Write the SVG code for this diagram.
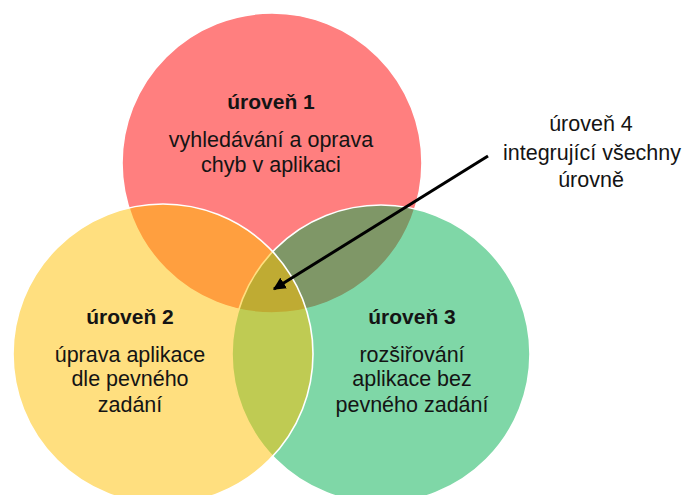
<svg xmlns="http://www.w3.org/2000/svg" width="683" height="495" viewBox="0 0 683 495">
  <defs>
    <marker id="arrowhead" viewBox="0 0 10 10" refX="9" refY="5" markerWidth="4.2" markerHeight="4.2" markerUnits="strokeWidth" orient="auto">
      <path d="M0,0 L10,5 L0,10 z" fill="#000"/>
    </marker>
    <style>
      .circle { stroke: #ffffff; stroke-width: 1.6; }
      .red { fill: rgba(255,0,0,0.5); }
      .yellow { fill: rgba(255,192,0,0.5); }
      .green { fill: rgba(0,176,80,0.5); }
      text { font-family: "Liberation Sans", Arial, sans-serif; font-size: 21.5px; fill: #141414; text-anchor: middle; }
      .title { font-weight: bold; font-size: 21px; }
      .connector { stroke: #000; stroke-width: 3; fill: none; }
    </style>
  </defs>
  <rect width="683" height="495" fill="#ffffff"/>
  <g id="node-level1">
    <circle class="circle red" cx="272" cy="163" r="150"/>
  </g>
  <g id="node-level3">
    <circle class="circle green" cx="381" cy="354" r="149"/>
  </g>
  <g id="node-level2">
    <circle class="circle yellow" cx="163" cy="354" r="150"/>
  </g>
  <g id="labels-level1">
    <text class="title" x="271" y="109">úroveň 1</text>
    <text x="271" y="147">vyhledávání a oprava</text>
    <text x="271" y="172">chyb v aplikaci</text>
  </g>
  <g id="labels-level2">
    <text class="title" x="130" y="324">úroveň 2</text>
    <text x="130" y="362">úprava aplikace</text>
    <text x="130" y="386">dle pevného</text>
    <text x="130" y="412">zadání</text>
  </g>
  <g id="labels-level3">
    <text class="title" x="412" y="324">úroveň 3</text>
    <text x="412" y="362">rozšiřování</text>
    <text x="412" y="386">aplikace bez</text>
    <text x="412" y="412">pevného zadání</text>
  </g>
  <g id="node-level4">
    <text x="591" y="131">úroveň 4</text>
    <text x="592" y="160">integrující všechny</text>
    <text x="591" y="187">úrovně</text>
  </g>
  <g id="connectors">
    <line class="connector" x1="488" y1="156" x2="274" y2="289" marker-end="url(#arrowhead)"/>
  </g>
</svg>
